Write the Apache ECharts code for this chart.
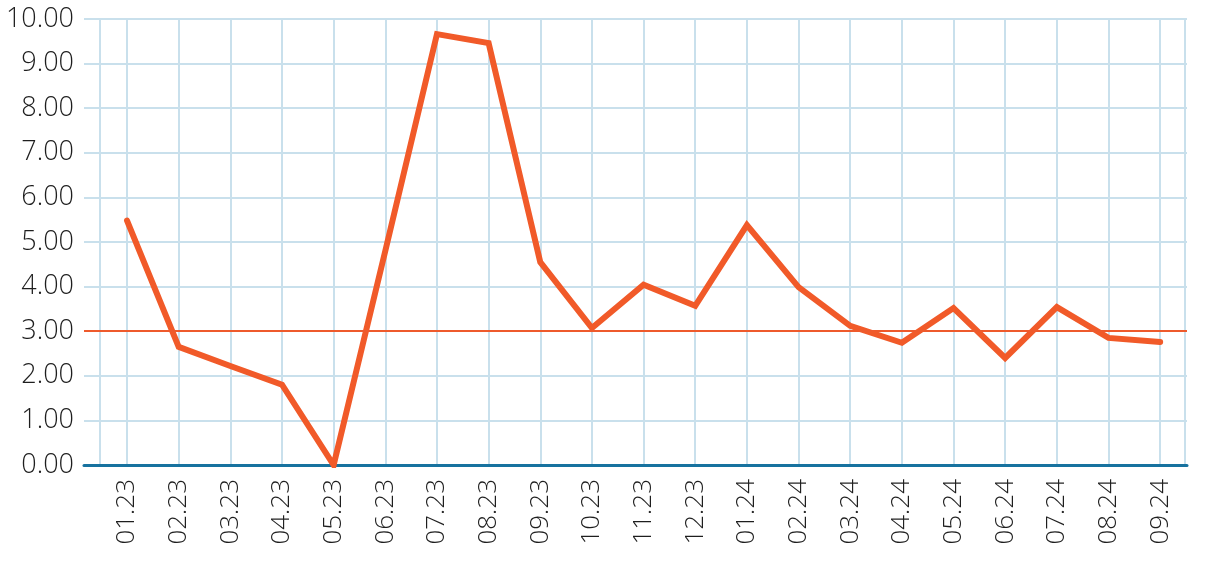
<!DOCTYPE html>
<html>
<head>
<meta charset="utf-8">
<script src="https://cdn.jsdelivr.net/npm/echarts@6/dist/echarts.min.js"></script>
<style>
  html, body { margin: 0; padding: 0; background: #fff; }
  #chart { width: 1208px; height: 564px; }
</style>
</head>
<body>
<div id="chart"></div>
<script>
// months shown under the axis
const categories = ["01.23", "02.23", "03.23", "04.23", "05.23", "06.23", "07.23", "08.23", "09.23", "10.23",
  "11.23", "12.23", "01.24", "02.24", "03.24", "04.24", "05.24", "06.24", "07.24", "08.24", "09.24"]
const values = [5.48, 2.65, 2.22, 1.8, 0.0, 4.8, 9.66, 9.46, 4.55, 3.07,
  4.04, 3.57, 5.38, 3.99, 3.12, 2.74, 3.52, 2.4, 3.54, 2.85, 2.76]
const yTicks = [0, 1, 2, 3, 4, 5, 6, 7, 8, 9, 10]
const targetLevel = 3

const labelFont = "Open Sans"
const gridColor = "#c9e0ec"
const lineColor = "#f15a29"

const chart = echarts.init(document.getElementById("chart"))

const xIndex = categories.map((c, i) => i)
// two extra grid lines half a step outside the first and last month
const xGridLines = [-0.52].concat(xIndex, [20.48])

chart.setOption({
  animation: false,
  grid: {
    left: 84,
    right: 21,
    top: 19,
    bottom: 99,
  },
  xAxis: {
    type: "value",
    min: -0.833,
    max: 20.52,
    axisLine: {
      show: true,
      onZero: true,
      lineStyle: { color: "#17729f", width: 3 },
    },
    axisTick: { show: false, customValues: xGridLines },
    axisLabel: {
      customValues: xIndex,
      rotate: 90,
      margin: 14,
      color: "#1e1e1e",
      fontFamily: labelFont,
      fontWeight: 300,
      fontSize: 26,
      formatter: v => categories[Math.round(v)],
    },
    splitLine: {
      show: true,
      lineStyle: { color: gridColor, width: 2 },
    },
  },
  yAxis: {
    type: "value",
    min: yTicks[0],
    max: yTicks[yTicks.length - 1],
    interval: 1,
    axisLine: { show: false },
    axisTick: { show: false },
    axisLabel: {
      margin: 10,
      color: "#1e1e1e",
      fontFamily: labelFont,
      fontWeight: 300,
      fontSize: 27,
      formatter: v => v.toFixed(2),
    },
    splitLine: {
      show: true,
      lineStyle: { color: gridColor, width: 2 },
    },
  },
  series: [
    {
      type: "line",
      data: values.map((v, i) => [i, v]),
      symbol: "none",
      lineStyle: { color: lineColor, width: 6, cap: "round", join: "miter" },
      markLine: {
        silent: true,
        symbol: "none",
        label: { show: false },
        lineStyle: { color: "#ee5a2c", width: 2, type: "solid" },
        data: [{ yAxis: targetLevel }],
      },
      z: 3,
    },
  ],
})
</script>
</body>
</html>
